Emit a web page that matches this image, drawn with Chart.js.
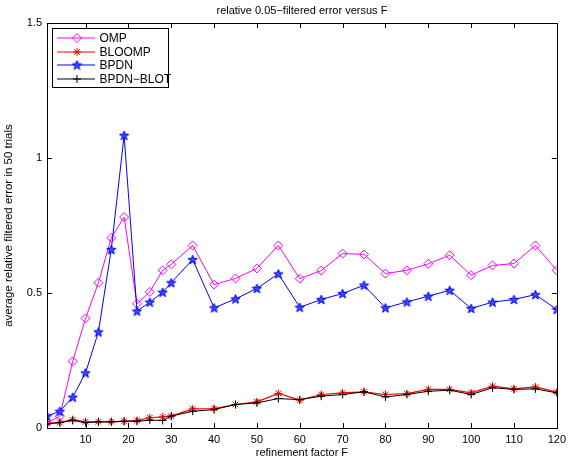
<!DOCTYPE html>
<html><head><meta charset="utf-8">
<script src="https://cdn.jsdelivr.net/npm/chart.js@4/dist/chart.umd.min.js"></script>
<style>html,body{margin:0;padding:0;background:#fff}#wrap{width:571px;height:460px;position:relative}</style>
</head><body><div id="wrap"><canvas id="c" width="571" height="460"></canvas></div>
<script>
const xValues = [1,4,7,10,13,16,19,22,25,28,30,35,40,45,50,55,60,65,70,75,80,85,90,95,100,105,110,115,120];
const ompValues = [0.019,0.044,0.247,0.406,0.538,0.704,0.781,0.460,0.504,0.584,0.606,0.676,0.531,0.554,0.591,0.676,0.553,0.583,0.646,0.643,0.572,0.584,0.608,0.640,0.566,0.602,0.609,0.676,0.584];
const bloompValues = [0.018,0.020,0.031,0.023,0.023,0.023,0.025,0.028,0.038,0.041,0.044,0.071,0.072,0.087,0.097,0.128,0.103,0.124,0.130,0.134,0.124,0.127,0.143,0.143,0.130,0.155,0.145,0.152,0.133];
const bpdnValues = [0.044,0.062,0.114,0.204,0.356,0.661,1.084,0.433,0.466,0.503,0.538,0.624,0.445,0.478,0.517,0.571,0.447,0.476,0.498,0.529,0.445,0.467,0.488,0.510,0.443,0.466,0.476,0.494,0.439];
const blotValues = [0.015,0.020,0.028,0.020,0.023,0.023,0.025,0.025,0.029,0.028,0.044,0.062,0.068,0.087,0.093,0.109,0.105,0.118,0.124,0.134,0.115,0.124,0.136,0.140,0.124,0.149,0.143,0.145,0.130];
const xTickValues = [10,20,30,40,50,60,70,80,90,100,110,120];
const yTickValues = [0,0.5,1,1.5];
const seriesNames = ['OMP','BLOOMP','BPDN','BPDN\u2212BLOT'];
const titleText = 'relative 0.05\u2212filtered error versus F';
const xLabelText = 'refinement factor F';
const yLabelText = 'average relative filtered error in 50 trials';

const FONT = 'Liberation Sans, Arial, sans-serif';

function pentagram(color){
  const c = document.createElement('canvas');
  c.width = 11; c.height = 11;
  const g = c.getContext('2d');
  const cx = 5.5, cy = 5.9, R = 4.9, r = 2.0;
  g.beginPath();
  for (let i=0;i<10;i++){
    const a = -Math.PI/2 + i*Math.PI/5;
    const rad = i%2===0 ? R : r;
    const px = cx + rad*Math.cos(a), py = cy + rad*Math.sin(a);
    if(i===0) g.moveTo(px,py); else g.lineTo(px,py);
  }
  g.closePath();
  g.fillStyle = '#3a4cff';
  g.fill();
  g.lineWidth = 1;
  g.strokeStyle = color;
  g.stroke();
  return c;
}
const starImg = pentagram('#0000ff');

function pts(vals){ return xValues.map((x,i)=>({x:x,y:vals[i]})); }

const datasets = [
  {label:seriesNames[0], data:pts(ompValues), borderColor:'#ff00ff', backgroundColor:'#ffffff', pointStyle:'rectRot', pointRadius:4.5, pointBorderWidth:1, pointBorderColor:'#ff00ff', pointBackgroundColor:'rgba(255,255,255,0)', borderWidth:1, order:4},
  {label:seriesNames[1], data:pts(bloompValues), borderColor:'#ff0000', backgroundColor:'#ff0000', pointStyle:'star', pointRadius:4, pointBorderWidth:1, pointBorderColor:'#ff0000', borderWidth:1.2, order:3},
  {label:seriesNames[2], data:pts(bpdnValues), borderColor:'#0000ff', backgroundColor:'#0000ff', pointStyle:starImg, pointRadius:5, borderWidth:1, order:2},
  {label:seriesNames[3], data:pts(blotValues), borderColor:'#000000', backgroundColor:'#000000', pointStyle:'cross', pointRadius:4, pointBorderWidth:1, pointBorderColor:'#000000', borderWidth:1, order:1}
];

const L=47, R=560, T=23, B=428;

const decor = {
  id:'decor',
  afterDatasetsDraw(chart){
    const ctx = chart.ctx, a = chart.chartArea;
    const xs = chart.scales.x, ys = chart.scales.y;
    ctx.save();
    ctx.strokeStyle = '#000'; ctx.lineWidth = 1;
    ctx.beginPath();
    xTickValues.forEach(v=>{
      const px = Math.round(xs.getPixelForValue(v))+0.5;
      ctx.moveTo(px, a.bottom); ctx.lineTo(px, a.bottom-5);
      ctx.moveTo(px, a.top); ctx.lineTo(px, a.top+5);
    });
    yTickValues.forEach(v=>{
      const py = Math.round(ys.getPixelForValue(v))+0.5;
      ctx.moveTo(a.left, py); ctx.lineTo(a.left+5, py);
      ctx.moveTo(a.right, py); ctx.lineTo(a.right-5, py);
    });
    ctx.stroke();
    ctx.strokeRect(Math.round(a.left)+0.5, Math.round(a.top)+0.5, Math.round(a.right-a.left), Math.round(a.bottom-a.top));
    ctx.fillStyle = '#000';
    ctx.font = '11px ' + FONT;
    ctx.textAlign = 'center'; ctx.textBaseline = 'middle';
    ctx.fillText(titleText, (a.left+a.right)/2, 10.5);
    ctx.fillText(xLabelText, (a.left+a.right)/2, 452.5);
    ctx.save();
    ctx.translate(9, (a.top+a.bottom)/2);
    ctx.rotate(-Math.PI/2);
    ctx.font = '11.5px ' + FONT;
    ctx.fillText(yLabelText, 0, 0);
    ctx.restore();
    // legend
    const bx = 52.5, by = 28.5, bw = 116, bh = 59;
    ctx.fillStyle = '#fff';
    ctx.fillRect(bx, by, bw, bh);
    ctx.strokeStyle = '#000';
    ctx.strokeRect(bx, by, bw, bh);
    const rows = [38, 52, 65, 79];
    chart.data.datasets.forEach((ds,i)=>{
      const y = rows[i];
      ctx.strokeStyle = ds.borderColor; ctx.lineWidth = 1.2;
      ctx.beginPath(); ctx.moveTo(57, y); ctx.lineTo(95, y); ctx.stroke();
      const opts = {pointStyle: ds.pointStyle, radius: ds.pointRadius, rotation:0, borderWidth: ds.pointBorderWidth||1};
      ctx.fillStyle = ds.pointBackgroundColor || ds.backgroundColor;
      ctx.strokeStyle = ds.pointBorderColor || ds.borderColor;
      ctx.lineWidth = ds.pointBorderWidth||1;
      Chart.helpers.drawPoint(ctx, opts, 77, y);
      ctx.fillStyle = '#000';
      ctx.textAlign = 'left'; ctx.textBaseline = 'middle';
      ctx.font = '12px ' + FONT;
      ctx.fillText(ds.label, 99.5, y+0.5);
    });
    ctx.restore();
  }
};

new Chart(document.getElementById('c'), {
  type:'line',
  data:{datasets:datasets},
  options:{
    responsive:false, animation:false, devicePixelRatio:1,
    layout:{padding:{top:T, right:571-R, left:0, bottom:0}},
    plugins:{legend:{display:false}, title:{display:false}, tooltip:{enabled:false}},
    elements:{line:{tension:0}},
    scales:{
      x:{type:'linear', min:1, max:120,
        afterFit(s){ s.height = 460-B; },
        afterBuildTicks(s){ s.ticks = xTickValues.map(v=>({value:v})); },
        grid:{display:false, drawTicks:false}, border:{display:false},
        ticks:{padding:5, color:'#000', font:{family:FONT, size:11}, maxRotation:0, autoSkip:false, callback:(v)=>String(v)}
      },
      y:{type:'linear', min:0, max:1.5,
        afterFit(s){ s.width = L; },
        afterBuildTicks(s){ s.ticks = yTickValues.map(v=>({value:v})); },
        grid:{display:false, drawTicks:false}, border:{display:false},
        ticks:{padding:5, color:'#000', font:{family:FONT, size:11}, autoSkip:false, callback:(v)=>String(v)}
      }
    }
  },
  plugins:[decor]
});
</script></body></html>
